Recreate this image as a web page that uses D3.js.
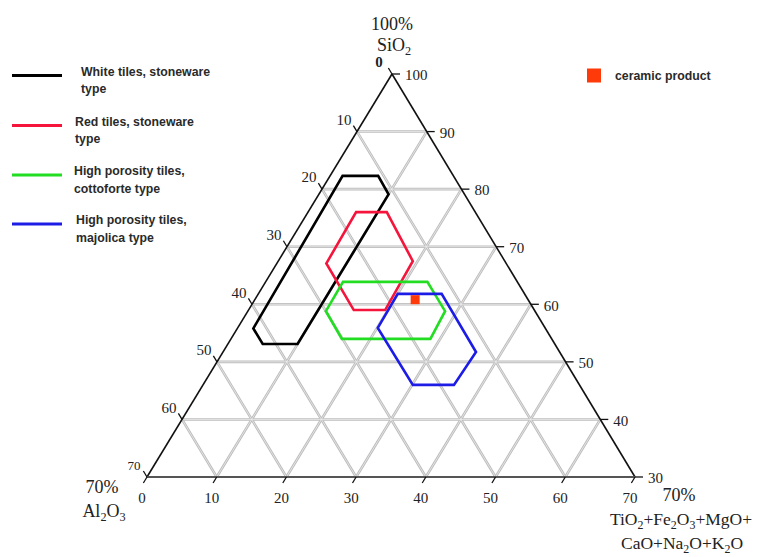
<!DOCTYPE html>
<html>
<head>
<meta charset="utf-8">
<script src="https://cdn.jsdelivr.net/npm/d3@7"></script>
<style>
  html, body { margin: 0; padding: 0; background: #fff; }
  svg { display: block; }
</style>
</head>
<body>
<svg id="chart" width="761" height="557"></svg>
<script>
// Ternary diagram: SiO2 (apex) – Al2O3 (bottom left) – fluxes (bottom right)
// Compositions are given as [SiO2, Al2O3, fluxes] in wt%.

const siTicks = [100, 90, 80, 70, 60, 50, 40, 30];
const alTicks = [0, 10, 20, 30, 40, 50, 60, 70];
const fluxTicks = [0, 10, 20, 30, 40, 50, 60, 70];
const gridSteps = [10, 20, 30, 40, 50, 60];

const whiteStoneware = [[82.3, 15.9, 1.8], [82.3, 10.8, 6.9], [79.1, 10.9, 10.0], [53.1, 36.9, 10.0], [53.1, 41.9, 5.0], [55.8, 41.9, 2.3]];
const redStoneware = [[76.0, 17.1, 6.9], [76.0, 12.7, 11.3], [67.5, 13.2, 19.3], [59.0, 21.4, 19.6], [59.0, 25.9, 15.1], [67.1, 25.8, 7.1]];
const cottoforte = [[63.9, 25.0, 11.1], [63.9, 12.9, 23.2], [58.8, 12.9, 28.3], [54.0, 17.4, 28.6], [54.0, 30.1, 15.9], [58.8, 30.0, 11.2]];
const majolica = [[61.8, 18.2, 20.0], [61.8, 11.9, 26.3], [51.7, 12.0, 36.3], [46.0, 18.0, 36.0], [46.0, 23.9, 30.1], [55.9, 24.0, 20.1]];
const ceramicProduct = [60.8, 16.2, 23.0];

const fieldNames = [
  ["White tiles, stoneware", "type"],
  ["Red tiles, stoneware", "type"],
  ["High porosity tiles,", "cottoforte type"],
  ["High porosity tiles,", "majolica type"]
];
const fieldColors = ["#000000", "#f5153c", "#22dd22", "#1c1ce6"];
const fields = [whiteStoneware, redStoneware, cottoforte, majolica];

const svg = d3.select("#chart");

// triangle corners in screen space
const apex = { x: 392, y: 74 };
const left = { x: 147, y: 477 };
const right = { x: 635, y: 477 };

// barycentric weights from the SiO2 and flux contents
const siScale = d3.scaleLinear().domain([30, 100]).range([0, 1]);
const fluxScale = d3.scaleLinear().domain([0, 70]).range([0, 1]);

function project(si, al, flux) {
  const a = siScale(si), c = fluxScale(flux);
  return [
    left.x + (apex.x - left.x) * a + (right.x - left.x) * c,
    left.y + (apex.y - left.y) * a + (right.y - left.y) * c
  ];
}

const serif = "'Liberation Serif', 'DejaVu Serif', serif";
const sans = "'Liberation Sans', Arial, sans-serif";

// ---- grid ----
const gridLines = [];
gridSteps.forEach(v => {
  // constant SiO2 (horizontal)
  const si = 30 + v;
  gridLines.push([project(si, 100 - si, 0), project(si, 0, 100 - si)]);
  // constant flux
  gridLines.push([project(30, 70 - v, v), project(100 - v, 0, v)]);
  // constant Al2O3
  gridLines.push([project(100 - v, v, 0), project(30, v, 70 - v)]);
});
const gridG = svg.append("g");
gridG.selectAll("line.outer").data(gridLines).join("line")
  .attr("class", "outer")
  .attr("x1", d => d[0][0]).attr("y1", d => d[0][1])
  .attr("x2", d => d[1][0]).attr("y2", d => d[1][1])
  .attr("stroke", "#bcbcbc").attr("stroke-width", 2.6);
gridG.selectAll("line.inner").data(gridLines).join("line")
  .attr("class", "inner")
  .attr("x1", d => d[0][0]).attr("y1", d => d[0][1])
  .attr("x2", d => d[1][0]).attr("y2", d => d[1][1])
  .attr("stroke", "#ececec").attr("stroke-width", 0.8);

// ---- triangle frame ----
const A = project(100, 0, 0), L = project(30, 70, 0), R = project(30, 0, 70);
svg.append("line").attr("x1", A[0]).attr("y1", A[1]).attr("x2", L[0]).attr("y2", L[1])
  .attr("stroke", "#111").attr("stroke-width", 1.6);
svg.append("line").attr("x1", A[0]).attr("y1", A[1]).attr("x2", R[0]).attr("y2", R[1])
  .attr("stroke", "#111").attr("stroke-width", 1.6);
svg.append("line").attr("x1", L[0]).attr("y1", L[1]).attr("x2", R[0]).attr("y2", R[1])
  .attr("stroke", "#555").attr("stroke-width", 2);

// ---- ticks and tick labels ----
const tickG = svg.append("g").attr("stroke", "#111").attr("stroke-width", 1.3);
const labelG = svg.append("g").attr("font-family", serif).attr("fill", "#222");

// unit vectors along the grid directions
function unit(dx, dy) { const n = Math.hypot(dx, dy); return [dx / n, dy / n]; }
const alDir = unit(A[0] - R[0], A[1] - R[1]);   // continuation of constant-Al2O3 lines beyond left edge
const fluxDir = unit(L[0] - A[0], L[1] - A[1]); // continuation of constant-flux lines below base

// left edge: Al2O3
alTicks.forEach(v => {
  const p = project(100 - v, v, 0);
  tickG.append("line").attr("x1", p[0]).attr("y1", p[1])
    .attr("x2", p[0] + alDir[0] * 7).attr("y2", p[1] + alDir[1] * 7);
  labelG.append("text").attr("x", p[0] - 13).attr("y", p[1] - 12).attr("dy", "0.35em")
    .attr("text-anchor", "middle").attr("font-size", v === 70 ? 13 : 15)
    .attr("font-weight", v === 0 ? "bold" : null).text(v);
});

// right edge: SiO2
siTicks.forEach(v => {
  const p = project(v, 0, 100 - v);
  tickG.append("line").attr("x1", p[0]).attr("y1", p[1])
    .attr("x2", p[0] + 8).attr("y2", p[1]);
  labelG.append("text").attr("x", p[0] + 13).attr("y", p[1] + 1).attr("dy", "0.35em")
    .attr("text-anchor", "start").attr("font-size", 15).text(v);
});

// base: fluxes
fluxTicks.forEach(v => {
  const p = project(30, 70 - v, v);
  tickG.append("line").attr("x1", p[0]).attr("y1", p[1])
    .attr("x2", p[0] + fluxDir[0] * 7).attr("y2", p[1] + fluxDir[1] * 7);
  labelG.append("text").attr("x", p[0] - 5).attr("y", p[1] + 21).attr("dy", "0.35em")
    .attr("text-anchor", "middle").attr("font-size", 15).text(v);
});

// ---- axis titles ----
function richText(x, y, parts, size, anchor) {
  const t = svg.append("text").attr("x", x).attr("y", y)
    .attr("font-family", serif).attr("font-size", size).attr("fill", "#222")
    .attr("text-anchor", anchor || "middle");
  let shifted = 0;
  parts.forEach(([str, sub]) => {
    const target = sub ? 4 : 0;
    t.append("tspan").attr("dy", target - shifted)
      .attr("font-size", sub ? size * 0.68 : size).text(str);
    shifted = target;
  });
  return t;
}
richText(392, 30, [["100%", false]], 18);
richText(394, 51, [["SiO", false], ["2", true]], 18);
richText(102, 493, [["70%", false]], 18);
richText(104, 517, [["Al", false], ["2", true], ["O", false], ["3", true]], 18);
richText(679, 501, [["70%", false]], 18);
richText(681, 525, [["TiO", false], ["2", true], ["+Fe", false], ["2", true], ["O", false], ["3", true], ["+MgO+", false]], 17.5);
richText(682, 549, [["CaO+Na", false], ["2", true], ["O+K", false], ["2", true], ["O", false]], 17.5);

// ---- composition fields ----
const lineGen = d3.line().curve(d3.curveLinearClosed);
svg.append("g").selectAll("path").data(fields).join("path")
  .attr("d", d => lineGen(d.map(c => project(c[0], c[1], c[2]))))
  .attr("fill", "none")
  .attr("stroke", (d, i) => fieldColors[i])
  .attr("stroke-width", 2.6)
  .attr("stroke-linejoin", "miter");

// ---- measured product ----
const cp = project(ceramicProduct[0], ceramicProduct[1], ceramicProduct[2]);
svg.append("rect").attr("x", cp[0] - 4.5).attr("y", cp[1] - 4.5)
  .attr("width", 9).attr("height", 9).attr("fill", "#ff3a0a");

// ---- legend ----
const legendY = [75.5, 125.5, 175, 224];
const legendTextX = [81, 75, 74, 76];
const legend = svg.append("g").attr("font-family", sans).attr("font-weight", "bold")
  .attr("font-size", 12.3).attr("fill", "#2a2a2a");
fieldNames.forEach((lines, i) => {
  legend.append("line").attr("x1", 12).attr("x2", 62)
    .attr("y1", legendY[i]).attr("y2", legendY[i])
    .attr("stroke", fieldColors[i]).attr("stroke-width", 2.8);
  lines.forEach((s, j) => {
    legend.append("text").attr("x", legendTextX[i]).attr("y", legendY[i] - 4 + j * 17.6)
      .attr("dy", "0.35em").text(s);
  });
});
svg.append("rect").attr("x", 587).attr("y", 68.5).attr("width", 14).attr("height", 14)
  .attr("fill", "#ff3a0a");
legend.append("text").attr("x", 615).attr("y", 75.5).attr("dy", "0.35em").text("ceramic product");
</script>
</body>
</html>
